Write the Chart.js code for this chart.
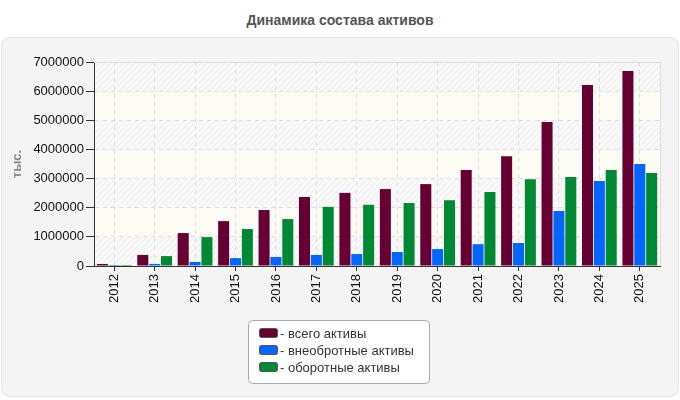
<!DOCTYPE html>
<html>
<head>
<meta charset="utf-8">
<script src="https://cdn.jsdelivr.net/npm/chart.js@4"></script>
<style>
  body { margin: 0; background: #fff; font-family: "Liberation Sans", Arial, sans-serif; }
  #wrap { position: relative; width: 680px; height: 400px; }
  #title { position: absolute; left: 0; top: 12px; width: 680px; text-align: center;
           font-weight: bold; font-size: 14px; color: #555; }
  #panel { position: absolute; left: 1px; top: 37px; width: 676px; height: 358px;
           background: #f4f4f4; border: 1px solid #e2e2e2; border-radius: 9px; }
  #chart { position: absolute; left: 0; top: 0; }
</style>
</head>
<body>
<div id="wrap">
  <div id="title">Динамика состава активов</div>
  <div id="panel"></div>
  <canvas id="chart" width="680" height="400"></canvas>
</div>
<script>
const years = ['2012', '2013', '2014', '2015', '2016', '2017', '2018', '2019', '2020', '2021', '2022', '2023', '2024', '2025'];
const totalAssets = [70000, 380000, 1130000, 1540000, 1920000, 2370000, 2510000, 2640000, 2810000, 3290000, 3770000, 4940000, 6210000, 6690000];
const fixedAssets = [35000, 70000, 140000, 270000, 310000, 380000, 410000, 480000, 580000, 750000, 790000, 1890000, 2920000, 3500000];
const currentAssets = [35000, 340000, 990000, 1270000, 1610000, 2030000, 2100000, 2160000, 2260000, 2540000, 2980000, 3050000, 3290000, 3190000];
const seriesNames = ['всего активы', 'внеобротные активы', 'оборотные активы'];
const seriesColors = ['#660033', '#0066ff', '#008833'];

const FONT = '"Liberation Sans", Arial, sans-serif';

// hatch pattern for striped bands
function makeHatch(ctx) {
  const c = document.createElement('canvas');
  c.width = 6; c.height = 6;
  const g = c.getContext('2d');
  g.fillStyle = '#f9f9f9';
  g.fillRect(0, 0, 6, 6);
  g.strokeStyle = '#ececec';
  g.lineWidth = 1;
  g.beginPath();
  g.moveTo(0, 6); g.lineTo(6, 0);
  g.moveTo(-1, 1); g.lineTo(1, -1);
  g.moveTo(5, 7); g.lineTo(7, 5);
  g.stroke();
  return ctx.createPattern(c, 'repeat');
}

const bands = {
  id: 'bands',
  beforeDraw(chart) {
    const { ctx, chartArea: a, scales: { y } } = chart;
    const hatch = makeHatch(ctx);
    ctx.save();
    const ticks = y.ticks;
    for (let i = 0; i < ticks.length - 1; i++) {
      const y0 = y.getPixelForValue(ticks[i].value);
      const y1 = y.getPixelForValue(ticks[i + 1].value);
      ctx.fillStyle = i % 2 === 0 ? hatch : '#fdfdf6';
      ctx.fillRect(a.left, y1, a.right - a.left, y0 - y1);
    }
    ctx.restore();
  },
  afterDatasetsDraw(chart) {
    const { ctx, chartArea: a } = chart;
    ctx.save();
    ctx.strokeStyle = '#dddddd';
    ctx.lineWidth = 1;
    ctx.beginPath();
    ctx.moveTo(a.left, a.top + 0.5);
    ctx.lineTo(a.right + 0.5, a.top + 0.5);
    ctx.lineTo(a.right + 0.5, a.bottom);
    ctx.stroke();
    ctx.restore();
  }
};

const boxLegend = {
  id: 'boxLegend',
  afterDraw(chart) {
    const ctx = chart.ctx;
    const bx = 248, by = 320, bw = 181, bh = 63;
    ctx.save();
    ctx.fillStyle = '#ffffff';
    ctx.strokeStyle = '#aaaaaa';
    ctx.lineWidth = 1;
    ctx.beginPath();
    ctx.roundRect(bx + 0.5, by + 0.5, bw, bh, 4);
    ctx.fill();
    ctx.stroke();
    ctx.font = '13px ' + FONT;
    ctx.textBaseline = 'middle';
    chart.data.datasets.forEach((ds, i) => {
      const cy = by + 13 + i * 17;
      ctx.fillStyle = ds.backgroundColor;
      ctx.strokeStyle = '#555';
      ctx.beginPath();
      ctx.roundRect(bx + 11.5, cy - 4.5, 18, 9, 2);
      ctx.fill();
      ctx.stroke();
      ctx.fillStyle = '#333';
      ctx.fillText('- ' + ds.label, bx + 32, cy + 1);
    });
    ctx.restore();
  }
};

new Chart(document.getElementById('chart'), {
  type: 'bar',
  data: {
    labels: years,
    datasets: [
      { label: seriesNames[0], data: totalAssets, backgroundColor: seriesColors[0] },
      { label: seriesNames[1], data: fixedAssets, backgroundColor: seriesColors[1] },
      { label: seriesNames[2], data: currentAssets, backgroundColor: seriesColors[2] }
    ]
  },
  options: {
    responsive: false,
    animation: false,
    categoryPercentage: 0.88,
    barPercentage: 0.93,
    layout: { padding: { left: 0, top: 62, right: 20, bottom: 0 } },
    plugins: {
      legend: { display: false },
      tooltip: { enabled: false }
    },
    scales: {
      x: {
        afterFit(s) { s.height = 134; },
        grid: { offset: false, color: '#dddddd', tickColor: '#333', tickLength: 5, tickBorderDash: [] },
        border: { color: '#333', dash: [4, 4] },
        ticks: { color: '#111', font: { family: FONT, size: 13 }, maxRotation: 90, minRotation: 90, padding: 3 }
      },
      y: {
        min: 0,
        max: 7000000,
        afterFit(s) { s.width = 94; },
        grid: { color: '#dddddd', tickColor: '#333', tickLength: 8, tickBorderDash: [] },
        border: { color: '#333', dash: [4, 4] },
        ticks: { stepSize: 1000000, color: '#111', font: { family: FONT, size: 13 }, padding: 2,
                 callback: v => String(v) },
        title: { display: true, text: 'тыс.', color: '#888', font: { family: FONT, size: 13, weight: 'bold' },
                 padding: { top: 10, bottom: 0 } }
      }
    }
  },
  plugins: [bands, boxLegend]
});
</script>
</body>
</html>
